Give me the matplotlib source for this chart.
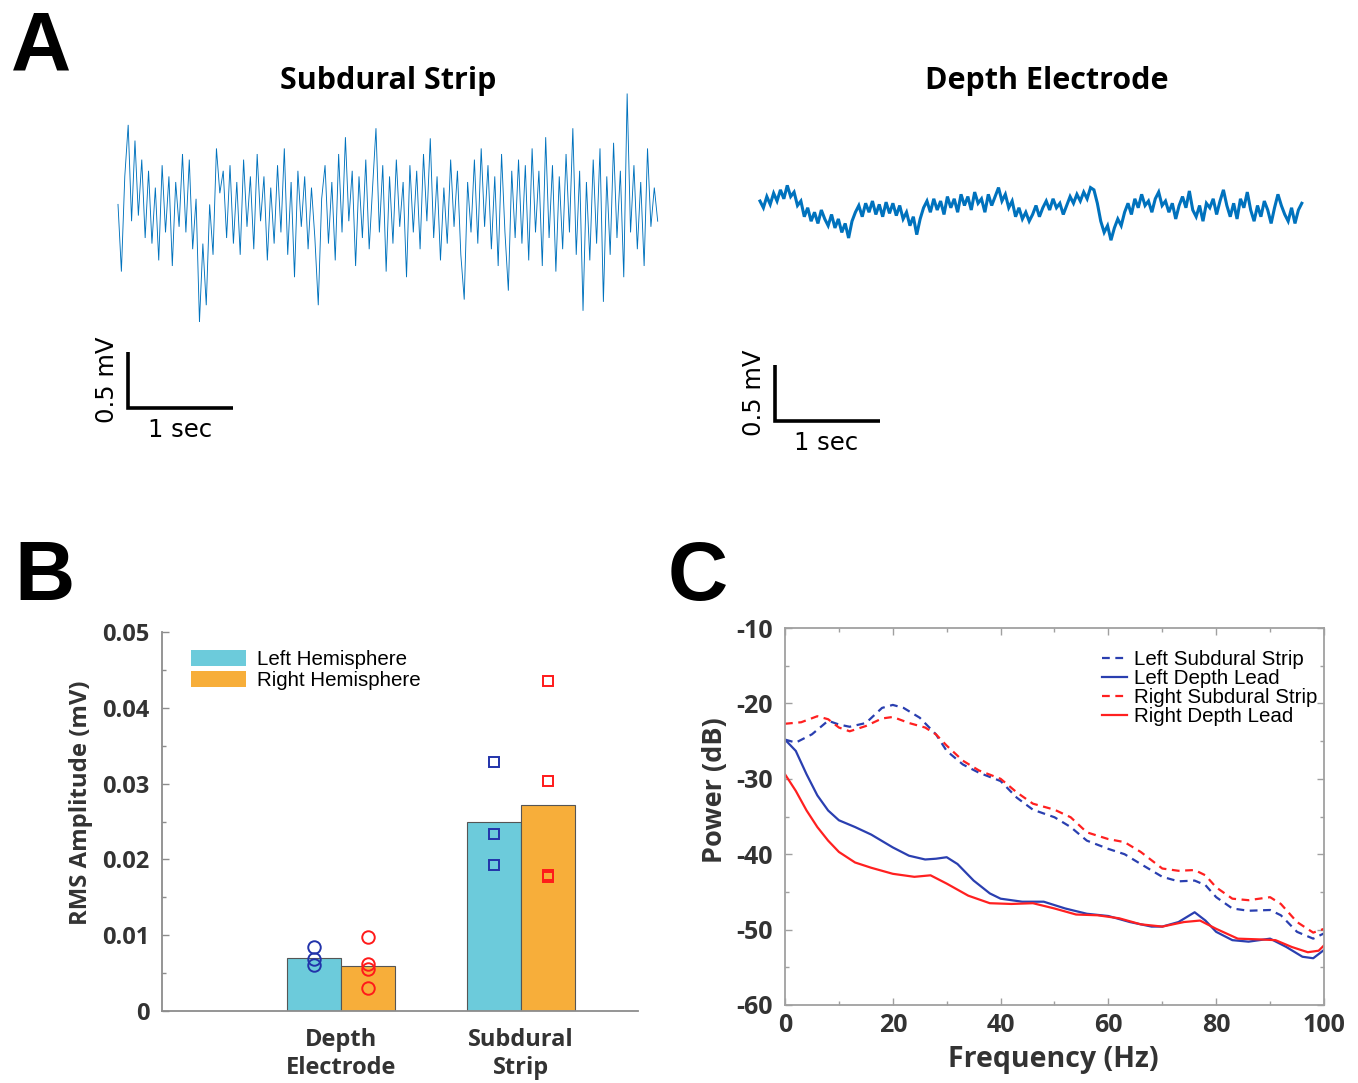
import numpy as np
import matplotlib
matplotlib.use("Agg")
import matplotlib.pyplot as plt
from matplotlib.patches import Patch
from matplotlib.ticker import MultipleLocator

plt.rcParams["axes.unicode_minus"] = False

# ---------------- data ----------------
# Panel A: example traces (mV)
subdural_trace = [
    0.05, -0.55, 0.30, 0.76, -0.10, 0.62, -0.05, 0.45, -0.25, 0.35, -0.30, 0.20, -0.45, 0.40, -0.20, 0.30, -0.50, 0.25, -0.15, 0.50,
    -0.20, 0.45, -0.35, 0.10, -1.00, -0.30, -0.85, 0.05, -0.40, 0.55, 0.15, 0.35, -0.25, 0.40, -0.30, 0.25, -0.40, 0.45, -0.15, 0.30,
    -0.35, 0.50, -0.10, 0.30, -0.45, 0.20, -0.30, 0.40, -0.20, 0.55, -0.40, 0.25, -0.60, 0.35, -0.15, 0.30, -0.35, 0.20, -0.25, -0.85,
    0.10, 0.40, -0.30, 0.25, -0.45, 0.50, -0.20, 0.65, -0.10, 0.35, -0.50, 0.30, -0.25, 0.45, -0.35, 0.20, 0.73, -0.20, 0.40, -0.55,
    0.30, -0.30, 0.45, -0.15, 0.25, -0.60, 0.40, -0.20, 0.35, -0.35, 0.50, -0.10, 0.64, -0.25, 0.30, -0.45, 0.20, -0.30, 0.45, -0.15,
    0.35, -0.40, -0.80, 0.25, -0.20, 0.45, -0.30, 0.55, -0.15, 0.40, -0.35, 0.30, -0.50, 0.50, -0.20, -0.72, 0.35, -0.25, 0.45, -0.30,
    0.40, -0.45, 0.55, -0.20, 0.35, -0.50, 0.65, -0.25, 0.40, -0.55, 0.30, -0.35, 0.50, -0.20, 0.73, -0.40, 0.35, -0.90, 0.25, -0.45,
    0.45, -0.30, 0.55, -0.82, 0.30, -0.40, 0.60, -0.25, 0.35, -0.60, 1.04, -0.20, 0.40, -0.35, 0.25, -0.50, 0.55, -0.15, 0.20, -0.10,
]
depth_trace = [
    0.08, 0.02, 0.12, 0.05, 0.15, 0.08, 0.18, 0.10, 0.22, 0.12, 0.16, 0.04, 0.08, -0.06, 0.02, -0.10, -0.02, -0.12, 0.00, -0.08,
    -0.14, -0.04, -0.16, -0.08, -0.20, -0.12, -0.25, -0.10, -0.02, 0.04, -0.06, 0.06, -0.02, 0.08, -0.04, 0.05, -0.06, 0.07, -0.03, 0.06,
    -0.05, 0.04, -0.08, -0.02, -0.14, -0.06, -0.22, -0.08, 0.02, 0.08, -0.02, 0.10, 0.00, 0.08, -0.04, 0.12, 0.02, 0.10, -0.02, 0.14,
    0.04, 0.12, 0.00, 0.16, 0.06, 0.10, -0.02, 0.14, 0.04, 0.12, 0.20, 0.08, 0.14, 0.02, 0.08, -0.06, 0.02, -0.08, -0.02, -0.10,
    -0.04, 0.04, -0.06, 0.02, 0.08, 0.00, 0.10, 0.02, 0.06, -0.04, 0.04, 0.12, 0.06, 0.14, 0.08, 0.16, 0.10, 0.20, 0.18, 0.06,
    -0.10, -0.20, -0.14, -0.27, -0.16, -0.08, -0.14, -0.02, 0.06, -0.04, 0.10, 0.02, 0.14, 0.04, 0.08, -0.02, 0.10, 0.16, 0.04, 0.08,
    -0.02, 0.06, -0.08, 0.04, 0.12, 0.02, 0.17, 0.00, -0.06, 0.04, -0.10, 0.06, 0.02, 0.10, -0.04, 0.08, 0.18, 0.04, -0.06, 0.06,
    -0.08, 0.10, 0.02, 0.16, 0.00, -0.10, 0.04, -0.06, 0.08, 0.00, -0.12, 0.02, 0.14, 0.04, -0.04, -0.10, 0.02, -0.12, 0.00, 0.06,
]
subdural_duration = 5.14  # sec
depth_duration = 5.16     # sec

# Panel B: RMS amplitude
categories = ["Depth\nElectrode", "Subdural\nStrip"]
left_means = [0.0070, 0.0250]
right_means = [0.0059, 0.0272]
left_depth_pts = [0.0085, 0.0068, 0.0061]
right_depth_pts = [0.0097, 0.0062, 0.0055, 0.0030]
left_strip_pts = [0.0328, 0.0233, 0.0193]
right_strip_pts = [0.0436, 0.0303, 0.0179, 0.0177]

# Panel C: power spectra
f_ls = [0, 2, 5, 8, 10, 12, 15, 18, 20, 22, 25, 28, 30, 33, 36, 40, 43, 46, 50, 53, 56, 60, 63, 66, 70, 73, 76, 78, 80, 83, 86, 90, 92, 95, 98, 100]
p_ls = [-24.8, -25.2, -24.1, -22.3, -22.8, -23.1, -22.6, -20.6, -20.2, -20.6, -21.9, -24.1, -26.3, -28.1, -29.2, -30.3, -32.5, -34.1, -35.1, -36.4, -38.2, -39.3, -40.0, -41.3, -43.0, -43.6, -43.5, -44.1, -45.7, -47.2, -47.5, -47.4, -48.1, -50.3, -51.2, -50.5]
f_rs = [0, 3, 6, 8, 10, 12, 15, 18, 20, 23, 26, 28, 30, 33, 36, 40, 43, 46, 50, 53, 56, 60, 63, 66, 70, 73, 76, 78, 80, 83, 86, 90, 92, 95, 98, 100]
p_rs = [-22.7, -22.5, -21.7, -22.1, -23.2, -23.7, -23.0, -22.0, -21.8, -22.6, -23.2, -24.1, -25.6, -27.6, -28.9, -30.0, -31.8, -33.3, -34.1, -35.1, -37.1, -38.0, -38.4, -39.7, -41.9, -42.2, -42.1, -42.8, -44.4, -45.9, -46.1, -45.7, -46.6, -49.0, -50.4, -49.9]
f_ld = [0, 2, 4, 6, 8, 10, 13, 16, 20, 23, 26, 28, 30, 32, 35, 38, 40, 44, 48, 52, 56, 60, 64, 68, 70, 73, 76, 78, 80, 83, 86, 90, 93, 96, 98, 100]
p_ld = [-24.8, -26.3, -29.4, -32.2, -34.2, -35.5, -36.4, -37.4, -39.1, -40.2, -40.7, -40.6, -40.4, -41.3, -43.5, -45.2, -45.9, -46.3, -46.3, -47.2, -47.9, -48.2, -49.0, -49.6, -49.6, -49.0, -47.7, -48.8, -50.3, -51.4, -51.6, -51.2, -52.3, -53.6, -53.8, -52.7]
f_rd = [0, 2, 4, 6, 8, 10, 13, 16, 20, 24, 27, 30, 34, 38, 42, 46, 50, 54, 58, 62, 66, 70, 74, 77, 80, 84, 88, 91, 94, 97, 99, 100]
p_rd = [-29.4, -31.6, -34.2, -36.4, -38.2, -39.7, -41.1, -41.8, -42.6, -43.0, -42.8, -43.9, -45.5, -46.5, -46.6, -46.5, -47.2, -48.0, -48.1, -48.5, -49.3, -49.6, -49.0, -48.8, -49.9, -51.2, -51.3, -51.4, -52.3, -53.0, -52.8, -52.1]

# ---------------- figure ----------------
W, H = 1358, 1083
fig = plt.figure(figsize=(W / 100, H / 100), dpi=100)
fig.patch.set_facecolor("white")

def fx(px):
    return px / W

def fy(py):
    return 1 - py / H

TRACE_BLUE = "#0072BD"
GRAY_TXT = "#333333"
SPINE = "#8c8c8c"
bold_font = ["Open Sans", "DejaVu Sans"]
arial = ["Liberation Sans", "DejaVu Sans"]

# ---- Panel A ----
PX_SEC = 105.0
PX_MV = 112.0

def trace_axes(x0px, trace_start_px, vals, duration, lw):
    ax = fig.add_axes([fx(x0px), fy(450), 590 / W, 390 / H])
    ax.set_xlim((x0px - trace_start_px) / PX_SEC, (x0px + 590 - trace_start_px) / PX_SEC)
    ax.set_ylim((210 - 450) / PX_MV, (210 - 60) / PX_MV)
    t = np.linspace(0, duration, len(vals))
    ax.plot(t, vals, color=TRACE_BLUE, lw=lw, solid_joinstyle="miter")
    ax.axis("off")
    return ax

axA1 = trace_axes(90, 118, subdural_trace, subdural_duration, 0.65)
axA2 = trace_axes(740, 760, depth_trace, depth_duration, 2.2)

def scale_bar(ax, x_px, start_px, y_px):
    x0 = (x_px - start_px) / PX_SEC
    y0 = (210 - y_px) / PX_MV
    ax.plot([x0, x0, x0 + 1.0], [y0 + 0.5, y0, y0], color="black", lw=2.6,
            solid_joinstyle="miter", solid_capstyle="butt")

scale_bar(axA1, 128, 118, 408)
scale_bar(axA2, 775, 760, 421)

fig.text(fx(107), fy(380), "0.5 mV", rotation=90, ha="center", va="center",
         fontsize=17.5, family="DejaVu Sans")
fig.text(fx(180), fy(430), "1 sec", ha="center", va="center", fontsize=17.5, family="DejaVu Sans")
fig.text(fx(754), fy(393), "0.5 mV", rotation=90, ha="center", va="center",
         fontsize=17.5, family="DejaVu Sans")
fig.text(fx(826), fy(443), "1 sec", ha="center", va="center", fontsize=17.5, family="DejaVu Sans")

fig.text(fx(388), fy(81), "Subdural Strip", ha="center", va="center", fontsize=22,
         fontweight="bold", family=bold_font)
fig.text(fx(1047), fy(81), "Depth Electrode", ha="center", va="center", fontsize=22,
         fontweight="bold", family=bold_font)

for letter, x, y in [("A", 41, 48), ("B", 44, 578), ("C", 698, 578)]:
    fig.text(fx(x), fy(y), letter, ha="center", va="center", fontsize=60,
             fontweight="heavy", family=arial)

# ---- Panel B ----
axB = fig.add_axes([fx(162), fy(1011), 476 / W, 379 / H])
pos = np.array([1.0, 2.0])
bw = 0.3
CYAN = "#6ccbdb"
ORANGE = "#f7ae3a"
axB.bar(pos - bw / 2, left_means, width=bw, color=CYAN, edgecolor="#555555", lw=0.8, zorder=2)
axB.bar(pos + bw / 2, right_means, width=bw, color=ORANGE, edgecolor="#555555", lw=0.8, zorder=2)
DBLUE = "#2233aa"
RED = "#ff1a1a"
axB.plot([pos[0] - bw / 2] * len(left_depth_pts), left_depth_pts, "o", mfc="none", mec=DBLUE, ms=9, mew=1.4, zorder=3)
axB.plot([pos[0] + bw / 2] * len(right_depth_pts), right_depth_pts, "o", mfc="none", mec=RED, ms=9, mew=1.4, zorder=3)
axB.plot([pos[1] - bw / 2] * len(left_strip_pts), left_strip_pts, "s", mfc="none", mec=DBLUE, ms=7, mew=1.4, zorder=3)
axB.plot([pos[1] + bw / 2] * len(right_strip_pts), right_strip_pts, "s", mfc="none", mec=RED, ms=7, mew=1.4, zorder=3)
axB.set_xlim(0.005, 2.65)
axB.set_ylim(0, 0.05)
axB.set_yticks([0, 0.01, 0.02, 0.03, 0.04, 0.05])
axB.set_yticklabels(["0", "0.01", "0.02", "0.03", "0.04", "0.05"])
axB.yaxis.set_minor_locator(MultipleLocator(0.005))
axB.set_xticks(pos)
axB.set_xticklabels(categories, linespacing=1.25)
for s in ["top", "right"]:
    axB.spines[s].set_visible(False)
for s in ["left", "bottom"]:
    axB.spines[s].set_color(SPINE)
    axB.spines[s].set_linewidth(1.3)
axB.tick_params(axis="y", which="major", direction="in", length=5, color=SPINE, width=1, pad=9)
axB.tick_params(axis="y", which="minor", direction="in", length=3, color=SPINE, width=1)
axB.tick_params(axis="x", length=0, pad=12)
for lab in axB.get_yticklabels() + axB.get_xticklabels():
    lab.set_fontfamily(bold_font)
    lab.set_fontweight("bold")
    lab.set_fontsize(17)
    lab.set_color(GRAY_TXT)
axB.set_ylabel("RMS Amplitude (mV)", fontsize=17.2, fontweight="bold", family=bold_font, color=GRAY_TXT)
axB.yaxis.set_label_coords(-0.145, 0.55)
axB.legend(handles=[Patch(facecolor=CYAN, edgecolor="none", label="Left Hemisphere"),
                    Patch(facecolor=ORANGE, edgecolor="none", label="Right Hemisphere")],
           loc="upper left", bbox_to_anchor=(0.036, 0.985), frameon=False,
           prop={"family": arial, "size": 14.8},
           handlelength=2.63, handleheight=0.78, handletextpad=0.58, labelspacing=0.1,
           borderaxespad=0.2)

# ---- Panel C ----
axC = fig.add_axes([fx(785), fy(1005), 539 / W, 377 / H])
LBLUE = "#2a3fb0"
LRED = "#ff2020"
axC.plot(f_ls, p_ls, color=LBLUE, lw=1.6, ls=(0, (3.5, 2.5)), label="Left Subdural Strip")
axC.plot(f_ld, p_ld, color=LBLUE, lw=1.6, label="Left Depth Lead")
axC.plot(f_rs, p_rs, color=LRED, lw=1.6, ls=(0, (3.5, 2.5)), label="Right Subdural Strip")
axC.plot(f_rd, p_rd, color=LRED, lw=1.6, label="Right Depth Lead")
axC.set_xlim(0, 100)
axC.set_ylim(-60, -10)
axC.set_xticks([0, 20, 40, 60, 80, 100])
axC.set_yticks([-10, -20, -30, -40, -50, -60])
axC.xaxis.set_minor_locator(MultipleLocator(10))
axC.yaxis.set_minor_locator(MultipleLocator(5))
for s in axC.spines.values():
    s.set_color("#a0a0a0")
    s.set_linewidth(1.3)
axC.tick_params(which="both", direction="in", top=True, right=True, color="#a0a0a0")
axC.tick_params(which="major", length=5, width=1)
axC.tick_params(which="minor", length=3, width=1)
axC.tick_params(axis="y", pad=9)
axC.tick_params(axis="x", pad=6)
for lab in axC.get_yticklabels() + axC.get_xticklabels():
    lab.set_fontfamily(bold_font)
    lab.set_fontweight("bold")
    lab.set_fontsize(18)
    lab.set_color(GRAY_TXT)
axC.set_xlabel("Frequency (Hz)", fontsize=20.5, fontweight="bold", family=bold_font, color=GRAY_TXT)
axC.xaxis.set_label_coords(0.497, -0.105)
axC.set_ylabel("Power (dB)", fontsize=19.5, fontweight="bold", family=bold_font, color=GRAY_TXT)
axC.yaxis.set_label_coords(-0.105, 0.57)
axC.legend(loc="upper right", bbox_to_anchor=(1.014, 0.98), frameon=False,
           prop={"family": arial, "size": 14.8},
           handlelength=1.22, handletextpad=0.34, labelspacing=0.0, borderaxespad=0.3)

fig.savefig("out.png", dpi=100, facecolor="white")
